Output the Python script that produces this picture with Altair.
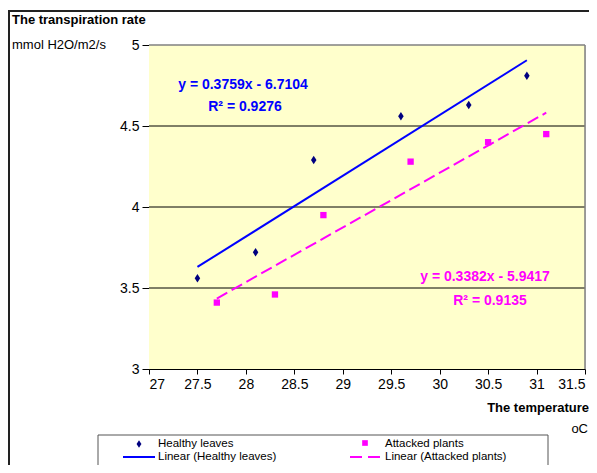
import altair as alt
import pandas as pd

# ---- data ----
temp_healthy = [27.5, 28.1, 28.7, 29.6, 30.3, 30.9]
rate_healthy = [3.56, 3.72, 4.29, 4.56, 4.63, 4.81]
temp_attacked = [27.7, 28.3, 28.8, 29.7, 30.5, 31.1]
rate_attacked = [3.41, 3.46, 3.95, 4.28, 4.40, 4.45]

x_ticks = [27, 27.5, 28, 28.5, 29, 29.5, 30, 30.5, 31, 31.5]
y_ticks = [3, 3.5, 4, 4.5, 5]
grid_values = [3.5, 4, 4.5]

eq_healthy = ["y = 0.3759x - 6.7104", "R\u00b2 = 0.9276"]
eq_attacked = ["y = 0.3382x - 5.9417", "R\u00b2 = 0.9135"]

y_title = ["The transpiration rate", "mmol H2O/m2/s"]
x_title = ["The temperature", "oC"]

legend_labels = ["Healthy leaves", "Attacked plants",
                 "Linear (Healthy leaves)", "Linear (Attacked plants)"]

NAVY = "#000080"
BLUE = "#0000FF"
MAGENTA = "#FF00FF"
PLOT_BG = "#FFFFCC"
FONT = "Liberation Sans"

df_h = pd.DataFrame({"temp": temp_healthy, "rate": rate_healthy})
df_a = pd.DataFrame({"temp": temp_attacked, "rate": rate_attacked})
df_grid = pd.DataFrame({"g": grid_values})

xs = alt.Scale(domain=[27, 31.5], nice=False, zero=False)
ys = alt.Scale(domain=[3, 5], nice=False, zero=False)

x_axis = alt.Axis(values=x_ticks, format="~g", title=None, grid=False,
                  domainColor="black", tickColor="black", tickSize=5,
                  labelFontSize=14, labelColor="black", labelPadding=3,
                  labelFont=FONT)
y_axis = alt.Axis(values=y_ticks, format="~g", title=None, grid=False,
                  domainColor="black", tickColor="black", tickSize=7,
                  labelFontSize=14, labelColor="black", labelPadding=3,
                  labelFont=FONT)

x_enc = alt.X("temp:Q", scale=xs, axis=x_axis)
y_enc = alt.Y("rate:Q", scale=ys, axis=y_axis)


def one(text):
    return pd.DataFrame({"t": [text]})


def label(text, x, y, color="black", size=13, weight="normal", align="left"):
    return alt.Chart(one(text)).mark_text(
        font=FONT, fontSize=size, fontWeight=weight, color=color,
        align=align, baseline="middle"
    ).encode(x=alt.value(x), y=alt.value(y), text="t:N")


plot_bg = alt.Chart(one("bg")).mark_rect(fill=PLOT_BG, stroke="transparent").encode(
    x=alt.value(0), x2=alt.value(436), y=alt.value(0), y2=alt.value(324)
)

grid = alt.Chart(df_grid).mark_rule(color="black", strokeWidth=1).encode(
    y=alt.Y("g:Q", scale=ys, axis=y_axis)
)

border_top = alt.Chart(one("b")).mark_rule(color="#808080", strokeWidth=1.5).encode(
    x=alt.value(0), x2=alt.value(436), y=alt.value(0)
)
border_right = alt.Chart(one("b")).mark_rule(color="#808080", strokeWidth=1.5).encode(
    x=alt.value(436), y=alt.value(0), y2=alt.value(324)
)

fit_h = alt.Chart(df_h).transform_regression("temp", "rate").mark_line(
    color=BLUE, strokeWidth=2
).encode(x=x_enc, y=y_enc)

fit_a = alt.Chart(df_a).transform_regression("temp", "rate").mark_line(
    color=MAGENTA, strokeWidth=2, strokeDash=[12, 5]
).encode(x=x_enc, y=y_enc)

DIAMOND = "M0,-1L0.65,0L0,1L-0.65,0Z"

pts_h = alt.Chart(df_h).mark_point(
    shape=DIAMOND, filled=True, color=NAVY, size=72, opacity=1
).encode(x=x_enc, y=y_enc)

pts_a = alt.Chart(df_a).mark_point(
    shape="square", filled=True, color=MAGENTA, size=40, opacity=1
).encode(x=x_enc, y=y_enc)

# equations
eqs = [
    label(eq_healthy[0], 94, 40, BLUE, 14, "bold", "center"),
    label(eq_healthy[1], 96, 62, BLUE, 14, "bold", "center"),
    label(eq_attacked[0], 336, 232, MAGENTA, 14, "bold", "center"),
    label(eq_attacked[1], 341, 256, MAGENTA, 14, "bold", "center"),
]

# axis titles
titles = [
    label(y_title[0], -137, -25, "black", 13, "bold", "left"),
    label(y_title[1], -137, 0, "black", 13, "normal", "left"),
    label(x_title[0], 440, 363, "black", 13, "bold", "right"),
    label(x_title[1], 439, 384, "black", 13, "normal", "right"),
]

# outer chart frame
frame = alt.Chart(one("f")).mark_rect(
    fill="transparent", stroke="#222222", strokeWidth=2
).encode(x=alt.value(-140), x2=alt.value(700), y=alt.value(-34), y2=alt.value(700))

# legend
LEG_ROW1 = 399
LEG_ROW2 = 412
legend_box = alt.Chart(one("l")).mark_rect(
    fill="white", stroke="#555555", strokeWidth=1
).encode(x=alt.value(-51), x2=alt.value(399), y=alt.value(390), y2=alt.value(700))

leg_diamond = alt.Chart(one(legend_labels[0])).mark_point(
    shape=DIAMOND, filled=True, color=NAVY, size=56, opacity=1
).encode(x=alt.value(-10), y=alt.value(LEG_ROW1))
leg_square = alt.Chart(one(legend_labels[1])).mark_point(
    shape="square", filled=True, color=MAGENTA, size=32, opacity=1
).encode(x=alt.value(216), y=alt.value(LEG_ROW1 - 1))
leg_line_h = alt.Chart(one(legend_labels[2])).mark_rule(
    color=BLUE, strokeWidth=2
).encode(x=alt.value(-26), x2=alt.value(6), y=alt.value(LEG_ROW2))
leg_line_a = alt.Chart(one(legend_labels[3])).mark_rule(
    color=MAGENTA, strokeWidth=2, strokeDash=[12, 6]
).encode(x=alt.value(201), x2=alt.value(235), y=alt.value(LEG_ROW2))

leg_texts = [
    label(legend_labels[0], 9, LEG_ROW1, size=11.5),
    label(legend_labels[1], 236, LEG_ROW1, size=11.5),
    label(legend_labels[2], 9, LEG_ROW2, size=11.5),
    label(legend_labels[3], 236, LEG_ROW2, size=11.5),
]

chart = alt.layer(
    plot_bg, grid, fit_h, fit_a, pts_h, pts_a, border_top, border_right,
    *eqs, *titles, frame, legend_box,
    leg_diamond, leg_square, leg_line_h, leg_line_a, *leg_texts
).properties(
    width=436, height=324,
    padding={"left": 141, "top": 37, "right": 4, "bottom": 96},
    autosize=alt.AutoSizeParams(type="none"),
).configure_view(
    stroke="transparent"
).configure(
    font=FONT
)

chart.save("out.html", embed_options={"renderer": "svg", "actions": False})
